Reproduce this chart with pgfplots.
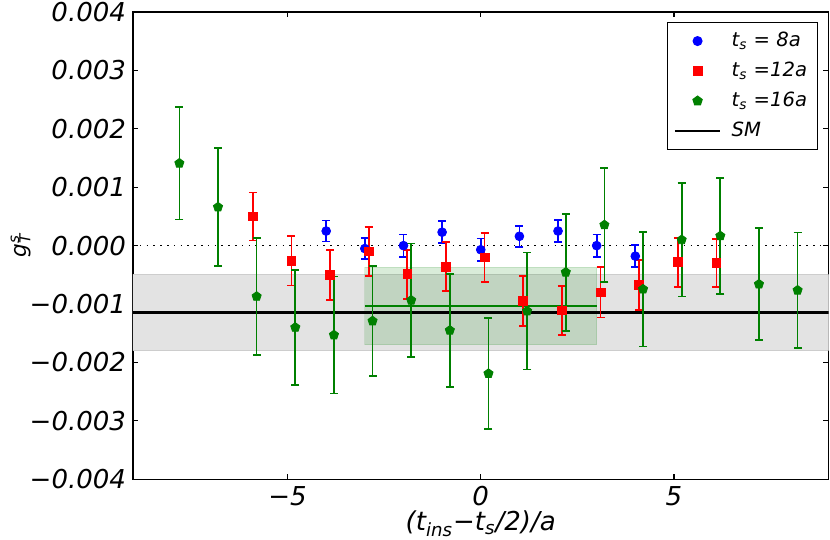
\documentclass[border=0pt]{standalone}
\usepackage{fontspec}
\setmainfont{DejaVu Sans}
\usepackage{pgfplots}
\pgfplotsset{compat=1.18}
\usetikzlibrary{plotmarks}
\definecolor{mblue}{RGB}{0,0,255}
\definecolor{mred}{RGB}{255,0,0}
\definecolor{mgreen}{RGB}{0,128,0}
\definecolor{bandgray}{RGB}{227,227,227}
\definecolor{bandedge}{RGB}{205,205,205}
\newcommand{\sub}[1]{\textsubscript{#1}}
\newcommand{\fs}{\fontsize{13}{15.5}\selectfont\itshape}
\newcommand{\fl}{\fontsize{9.8}{11}\selectfont\itshape}
\newcommand{\fy}{\fontsize{10.8}{12}\selectfont\itshape}
\pgfplotsset{myimg/.style={legend image code/.code={\draw[mark repeat=2,mark phase=2,##1] plot coordinates {(0cm,0cm) (0.4cm,0cm) (0.8cm,0cm)};}}}
\pgfplotstableread{
x y e
-4 0.00025 0.00018
-3 -0.00005 0.00018
-2 0.0 0.00019
-1 0.00023 0.00019
0 -0.00007 0.00019
1 0.00016 0.00018
2 0.00025 0.00019
3 0.0 0.00019
4 -0.00018 0.00019
}\tblue
\pgfplotstableread{
x y e
-5.9 0.0005 0.00041
-4.9 -0.00026 0.00042
-3.9 -0.0005 0.00043
-2.9 -0.0001 0.00042
-1.9 -0.00049 0.00042
-0.9 -0.00036 0.00042
0.1 -0.0002 0.00042
1.1 -0.00095 0.00043
2.1 -0.00111 0.00042
3.1 -0.0008 0.00043
4.1 -0.00067 0.00043
5.1 -0.000285 0.00042
6.1 -0.0003 0.00041
}\tred
\pgfplotstableread{
x y e
-7.8 0.00141 0.00096
-6.8 0.00066 0.00101
-5.8 -0.00087 0.00100
-4.8 -0.00140 0.00098
-3.8 -0.00153 0.00100
-2.8 -0.00129 0.00094
-1.8 -0.000935 0.00097
-0.8 -0.00145 0.00097
0.2 -0.00219 0.00095
1.2 -0.00112 0.00100
2.2 -0.000456 0.00100
3.2 0.000354 0.00098
4.2 -0.000746 0.00098
5.2 0.0001 0.00097
6.2 0.000166 0.00099
7.2 -0.00066 0.00096
8.2 -0.000764 0.00099
}\tgreen
\begin{document}
\begin{tikzpicture}
\begin{axis}[
  scale only axis, width=347.75pt, height=233.65pt,
  xmin=-9, xmax=9, ymin=-0.004, ymax=0.004,
  xtick={-5,0,5}, xticklabels={−5,0,5},
  ytick={-0.004,-0.003,-0.002,-0.001,0,0.001,0.002,0.003,0.004},
  yticklabels={−0.004,−0.003,−0.002,−0.001,0.000,0.001,0.002,0.003,0.004},
  scaled y ticks=false, scaled x ticks=false,
  tick align=inside, major tick length=2.7pt, minor tick num=0,
  axis line style={line width=0.7pt, black},
  tick style={line width=0.6pt, black},
  ticklabel style={font=\fs},
  xlabel style={font=\fs},
  xlabel={(t\sub{ins}−t\sub{s}/2)/a},
  xlabel style={yshift=4.5pt},
  ylabel={g\rlap{\textsuperscript{s}}\textsubscript{T}},
  ylabel style={font=\fy, at={(rel axis cs:0,0.5)}, anchor=center, yshift=56pt},
  legend style={at={(1,1)}, anchor=north east, xshift=-5.4pt, yshift=-4.85pt,
    draw=black, line width=0.6pt, font=\fl, fill=white, row sep=2.2pt,
    inner xsep=3pt, inner ysep=3pt,
    /tikz/every odd column/.append style={column sep=3pt}},
  legend cell align=left,
  legend entries={t\sub{s} = 8a, t\sub{s} =12a, t\sub{s} =16a, SM},
]
\addlegendimage{only marks, mark=*, mark size=2.2pt, color=mblue, myimg}
\addlegendimage{only marks, mark=square*, mark size=2.2pt, color=mred, myimg}
\addlegendimage{only marks, mark=pentagon*, mark size=2.4pt, color=mgreen, myimg}
\addlegendimage{black, line width=1.35pt, myimg}

\addplot[fill=bandgray, draw=bandedge, line width=0.5pt, forget plot] coordinates {(-9,-0.0005) (9,-0.0005) (9,-0.00179) (-9,-0.00179)} -- cycle;
\addplot[fill=mgreen, fill opacity=0.15, draw=mgreen, draw opacity=0.12, line width=0.5pt, forget plot] coordinates {(-3,-0.00037) (3,-0.00037) (3,-0.0017) (-3,-0.0017)} -- cycle;
\addplot[black, line width=0.7pt, dash pattern=on 0.8pt off 2.6pt, forget plot] coordinates {(-9,0) (9,0)};
\addplot[black, line width=1.35pt, forget plot] coordinates {(-9,-0.00114) (9,-0.00114)};
\addplot[mgreen, line width=1.2pt, forget plot] coordinates {(-3,-0.00103) (3,-0.00103)};

\addplot[forget plot, only marks, mark=*, mark size=2.2pt, color=mblue,
  error bars/.cd, y dir=both, y explicit, error bar style={line width=0.85pt, mblue}, error mark options={rotate=90, mark size=2pt, line width=0.85pt, mblue}]
  table[x=x, y=y, y error=e] {\tblue};
\addplot[forget plot, only marks, mark=square*, mark size=2.2pt, color=mred,
  error bars/.cd, y dir=both, y explicit, error bar style={line width=0.85pt, mred}, error mark options={rotate=90, mark size=2pt, line width=0.85pt, mred}]
  table[x=x, y=y, y error=e] {\tred};
\addplot[forget plot, only marks, mark=pentagon*, mark size=2.4pt, color=mgreen,
  error bars/.cd, y dir=both, y explicit, error bar style={line width=0.85pt, mgreen}, error mark options={rotate=90, mark size=2pt, line width=0.85pt, mgreen}]
  table[x=x, y=y, y error=e] {\tgreen};
\end{axis}
\pgfresetboundingbox
\path[use as bounding box] ([shift={(-66.5pt,-30.35pt)}]current axis.south west) rectangle ([shift={(0.75pt,6pt)}]current axis.north east);
\end{tikzpicture}
\end{document}
